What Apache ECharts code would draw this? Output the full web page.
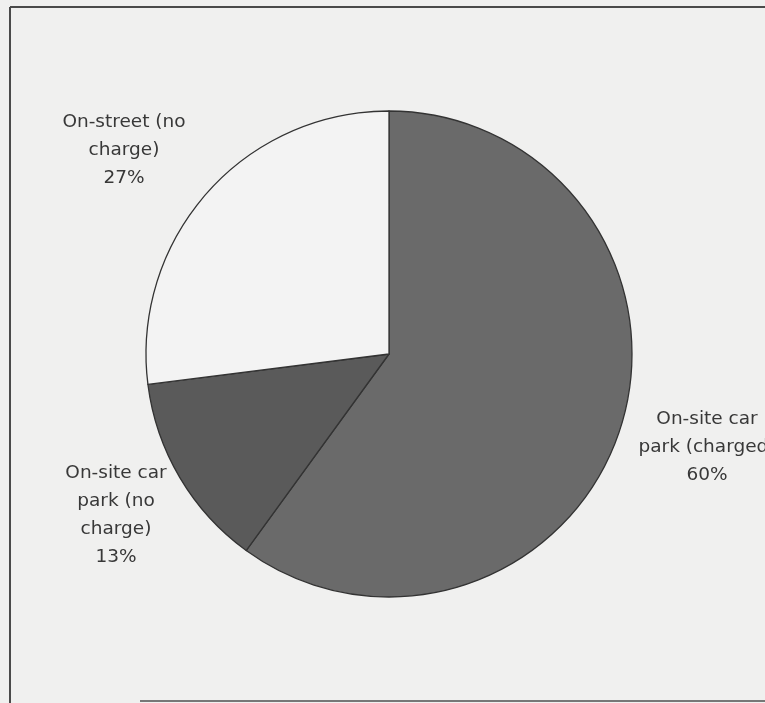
<!DOCTYPE html>
<html>
<head>
<meta charset="utf-8">
<script src="https://cdn.jsdelivr.net/npm/echarts@6/dist/echarts.min.js"></script>
<style>html,body{margin:0;padding:0;background:#f0f0ef;}#chart{width:765px;height:703px;}</style>
</head>
<body>
<div id="chart"></div>
<script>
const categories = ['On-site car\npark (charged)', 'On-site car\npark (no\ncharge)', 'On-street (no\ncharge)'];
const values = [60, 13, 27];
const sliceColors = ['#6a6a6a', '#5a5a5a', '#f3f3f3'];
const labelPos = [[707, 447], [116, 515], [124, 150]];

const chart = echarts.init(document.getElementById('chart'));
chart.setOption({
  backgroundColor: '#f0f0ef',
  animation: false,
  graphic: [
    { type: 'line', shape: { x1: 10, y1: 7, x2: 765, y2: 7 }, style: { stroke: '#4a4a4a', lineWidth: 2 } },
    { type: 'line', shape: { x1: 10, y1: 7, x2: 10, y2: 703 }, style: { stroke: '#4a4a4a', lineWidth: 2 } },
    { type: 'line', shape: { x1: 140, y1: 701, x2: 765, y2: 701 }, style: { stroke: '#777', lineWidth: 2 } }
  ],
  series: [{
    type: 'pie',
    center: [389, 354],
    radius: 243,
    startAngle: 90,
    clockwise: true,
    data: categories.map((c, i) => ({ name: c, value: values[i], itemStyle: { color: sliceColors[i] } })),
    itemStyle: { borderColor: '#333', borderWidth: 1.3 },
    label: {
      show: true,
      formatter: p => p.name + '\n' + p.value + '%',
      fontFamily: 'DejaVu Sans',
      fontSize: 18.5,
      lineHeight: 28,
      color: '#383838',
      align: 'center',
      overflow: 'none'
    },
    labelLine: { show: false },
    labelLayout: function (params) {
      const p = labelPos[params.dataIndex];
      return { x: p[0], y: p[1], align: 'center', verticalAlign: 'middle' };
    },
    emphasis: { disabled: true }
  }]
});
</script>
</body>
</html>
